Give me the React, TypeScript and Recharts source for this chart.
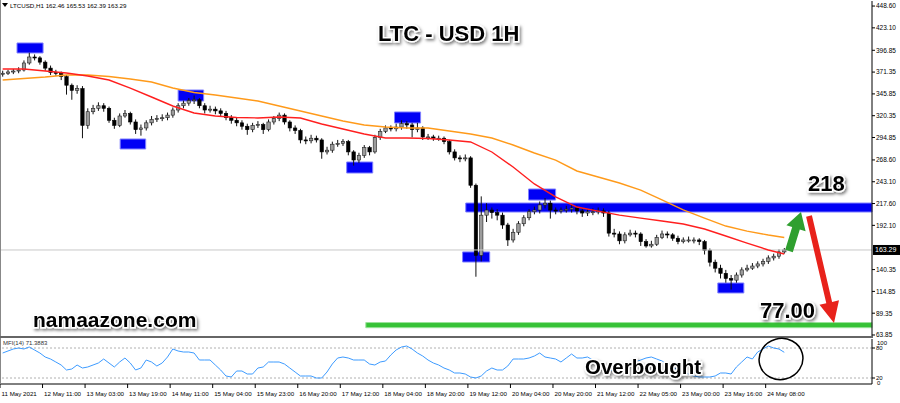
import React from 'react'
import {
  ComposedChart, Bar, Line, XAxis, YAxis, ReferenceArea, ReferenceLine,
} from 'recharts'

const FONT = '"Liberation Sans", Arial, sans-serif'

// 2-hour candles, LTCUSD 11 May -> 24 May 2021
const firstOpen = 369
const closes = [
  370, 371.5, 372.6, 373.8, 382, 389, 388, 383, 376, 371,
  370, 366, 356, 350, 352, 309, 325, 329, 332, 329,
  315, 309, 320, 323, 313, 304, 306, 312, 316, 317,
  318, 321, 327, 332, 335, 338, 339, 332, 327, 328,
  326, 323, 318, 315, 312, 308, 304, 309, 310, 304,
  313, 317, 321, 313, 306, 303, 292, 291, 294, 292,
  278, 280, 287, 288, 290, 278, 268.5, 274, 283, 278,
  295, 302, 306, 305, 307, 311, 309.5, 304, 306, 295.5,
  295.5, 294, 294, 290, 278, 271, 270, 271, 239, 157,
  204, 210, 207, 204, 192.5, 175, 184, 194, 201, 208,
  210, 216, 218, 210, 209, 210, 211, 212.4, 209, 206.5,
  208, 208, 209, 206.5, 183, 182, 174, 181, 183, 182,
  173, 168, 170, 178, 182, 181, 177, 173, 175, 175,
  175, 173, 163, 149, 142, 136, 130, 128, 134, 140,
  142, 144.5, 147, 150, 154, 156, 161, 163.29,
]
const highs = [
  373, 374, 375, 377, 385, 394, 392, 390, 385, 379,
  374, 372, 368, 358, 356, 355, 329, 333, 336, 335,
  331, 318, 323, 327, 325, 316, 310, 315, 320, 321,
  322, 324, 330, 335, 338, 341, 344, 341, 335, 332,
  331, 329, 326, 321, 318, 315, 311, 312, 314, 312,
  316, 320, 324, 323, 315, 309, 305, 296, 298, 297,
  294, 284, 290, 292, 293, 292, 280, 277, 286, 285,
  298, 305, 309, 309, 311, 315, 314, 312, 312, 308,
  299, 298, 297, 296, 292, 281, 274, 275, 273, 241,
  226, 218, 213, 211, 207, 195, 188, 197, 204, 211,
  214, 220, 224, 221, 213, 213, 215, 216, 215, 212,
  211, 212, 213, 212, 209, 188, 185, 184, 187, 186,
  184, 176, 174, 181, 186, 185, 183, 180, 178, 179,
  178, 177, 175, 165, 152, 146, 140, 134, 137, 143,
  146, 148, 150, 153, 157, 159, 164, 165.53,
]
const lows = [
  366, 368, 369, 370, 372, 380, 385, 380, 373, 368,
  367, 362, 345, 339, 346, 294, 305, 322, 326, 325,
  312, 305, 307, 318, 310, 299, 297, 303, 309, 313,
  314, 315, 318, 324, 329, 332, 334, 329, 323, 324,
  322, 320, 315, 311, 308, 304, 298, 301, 306, 299,
  302, 310, 314, 310, 302, 299, 288, 287, 288, 289,
  270, 275, 277, 284, 285, 274, 262, 265, 271, 274,
  276, 292, 300, 302, 302, 304, 305, 295, 301, 292,
  292, 291, 291, 287, 275, 268, 266, 267, 236, 132,
  150, 196, 200, 198, 188, 168, 172, 181, 191, 198,
  205, 206, 212, 200, 205, 206, 207, 207, 205, 202,
  203, 204, 205, 202, 179, 178, 170, 171, 179, 178,
  168, 166, 166, 168, 176, 177, 174, 170, 171, 172,
  171, 169, 158, 144, 137, 130, 125, 117, 125, 131,
  138, 140, 142, 144, 147, 151, 153, 159,
]

// moving averages, read every 4th candle
const maIdx = [0, 4, 8, 12, 16, 20, 24, 28, 32, 36, 40, 44, 48, 52, 56, 60, 64, 68, 72, 76,
  80, 84, 88, 92, 96, 100, 104, 108, 112, 116, 120, 124, 128, 132, 136, 140, 144, 147]
const maFast = [374.9, 374.9, 372.6, 370.3, 366.8, 362.1, 352.7, 342.2, 331.7, 323.5,
  320.0, 318.2, 317.7, 318.8, 317.7, 310.6, 304.8, 299.0, 294.3, 294.3,
  293.7, 291.9, 289.6, 277.9, 260.3, 240.5, 225.3, 213.5, 208.8, 204.1,
  200.6, 197.2, 193.7, 187.8, 179.6, 171.4, 163.3, 158.6]
const maSlow = [362.1, 363.9, 365.6, 368.0, 368.0, 366.2, 363.3, 359.8, 352.7, 347.5,
  344.5, 341.0, 337.5, 331.7, 325.8, 320.0, 314.1, 309.5, 307.1, 306.0,
  306.0, 302.5, 298.9, 294.3, 286.1, 276.7, 268.5, 255.7, 248.7, 241.6,
  233.4, 221.8, 210.1, 200.6, 191.3, 185.4, 180.8, 177.9]

const mfi = [
  70, 74, 78, 80, 78, 82, 76, 70, 62, 58,
  52, 46, 36, 38, 46, 40, 42, 46, 50, 58,
  50, 42, 52, 60, 50, 36, 40, 56, 52, 44,
  50, 62, 78, 74, 72, 72, 70, 56, 56, 56,
  46, 36, 24, 22, 34, 34, 28, 28, 40, 42,
  52, 52, 52, 48, 40, 32, 24, 24, 24, 20,
  20, 32, 48, 60, 62, 60, 56, 56, 56, 48,
  46, 52, 54, 66, 76, 82, 84, 78, 70, 64,
  56, 50, 46, 40, 36, 30, 30, 28, 22, 20,
  24, 34, 40, 36, 36, 44, 58, 58, 58, 60,
  64, 70, 62, 60, 58, 52, 60, 68, 60, 60,
  62, 56, 48, 42, 34, 36, 40, 44, 50, 52,
  56, 60, 62, 58, 54, 48, 42, 36, 32, 28,
  24, 22, 22, 22, 24, 30, 30, 28, 42, 52,
  62, 58, 72, 78, 84, 80, 78, 71.39,
]

const timeLabels = ['11 May 2021', '12 May 11:00', '13 May 03:00', '13 May 19:00', '14 May 11:00',
  '15 May 04:00', '15 May 23:00', '16 May 20:00', '17 May 12:00', '18 May 04:00', '18 May 20:00',
  '19 May 12:00', '20 May 04:00', '20 May 20:00', '21 May 12:00', '22 May 05:00', '23 May 00:00',
  '23 May 16:00', '24 May 08:00']
const priceTicks = [448.6, 423.1, 396.85, 371.35, 345.85, 320.35, 294.85, 268.6, 243.1,
  217.6, 192.1, 140.35, 114.85, 89.35, 63.85]
const lastPrice = 163.29

// swing boxes: [fromBar, toBar, lowPrice, highPrice]
const swingBoxes = [
  [2.7, 7.6, 393.7, 405.4], [22.1, 26.9, 281.4, 293.1], [33.0, 37.8, 337.5, 350.4],
  [64.7, 69.6, 253.3, 266.2], [73.7, 78.6, 311.8, 324.7], [86.5, 91.6, 149.2, 161.0],
  [98.9, 104.0, 221.7, 234.6], [134.5, 139.4, 113.0, 124.7],
]
const resistance = [87.1, 207.7, 218.2]
const target = [68.3, 72.4, 78.4]

const X_DOMAIN: [number, number] = [-0.5, 163.5]
const timeTicks = timeLabels.map((_, k) => k * 8 - 0.5)

const candles = closes.map((c, i) => ({
  i,
  open: i === 0 ? firstOpen : closes[i - 1],
  close: c,
  high: highs[i],
  low: lows[i],
  range: [lows[i], highs[i]],
}))
const fastData = maIdx.map((i, k) => ({ i, v: maFast[k] }))
const slowData = maIdx.map((i, k) => ({ i, v: maSlow[k] }))
const mfiData = mfi.map((v, i) => ({ i, v }))

function Candle(props: any) {
  const { x, y, width, height, payload } = props
  if (!payload) return null
  const top0 = Math.min(y, y + height)
  const h = Math.abs(height)
  const span = payload.high - payload.low
  const k = span > 0 ? h / span : 0
  const yOf = (v: number) => top0 + (payload.high - v) * k
  const cx = x + width / 2
  const bTop = yOf(Math.max(payload.open, payload.close))
  const bBot = yOf(Math.min(payload.open, payload.close))
  const up = payload.close >= payload.open
  return (
    <g>
      <line x1={cx} x2={cx} y1={top0} y2={top0 + h} stroke="#111" strokeWidth={1} />
      <rect x={x} y={bTop} width={width} height={Math.max(1, bBot - bTop)}
        fill={up ? '#9c9c9c' : '#000'} stroke={up ? '#222' : '#000'} strokeWidth={0.6} />
    </g>
  )
}

function PriceTag(props: any) {
  const vb = props.viewBox
  if (!vb) return null
  const x = vb.x + vb.width + 1
  return (
    <g>
      <rect x={x} y={vb.y - 5} width={27} height={10} fill="#000" />
      <text x={x + 2} y={vb.y + 2.5} fontSize={7} fill="#fff" fontFamily={FONT}>{lastPrice.toFixed(2)}</text>
    </g>
  )
}

function TimeTick(props: any) {
  const { x, y, payload } = props
  const k = Math.round((payload.value + 0.5) / 8)
  return (
    <g>
      <line x1={x} x2={x} y1={y} y2={y + 4} stroke="#000" />
      <text x={x + 1.5} y={y + 12} fontSize={6.2} fill="#000" fontFamily={FONT}>{timeLabels[k]}</text>
    </g>
  )
}

function arrowPts(x1: number, y1: number, x2: number, y2: number, shaft: number, head: number, headLen: number) {
  const dx = x2 - x1
  const dy = y2 - y1
  const L = Math.hypot(dx, dy)
  const ux = dx / L
  const uy = dy / L
  const nx = -uy
  const ny = ux
  const bx = x2 - ux * headLen
  const by = y2 - uy * headLen
  const pts = [
    [x1 + nx * shaft / 2, y1 + ny * shaft / 2],
    [bx + nx * shaft / 2, by + ny * shaft / 2],
    [bx + nx * head / 2, by + ny * head / 2],
    [x2, y2],
    [bx - nx * head / 2, by - ny * head / 2],
    [bx - nx * shaft / 2, by - ny * shaft / 2],
    [x1 - nx * shaft / 2, y1 - ny * shaft / 2],
  ]
  return pts.map((p) => p[0].toFixed(1) + ',' + p[1].toFixed(1)).join(' ')
}

const bigText = {
  fontFamily: FONT, fontWeight: 700, fill: '#000', stroke: '#fff', strokeWidth: 3,
  paintOrder: 'stroke' as const, filter: 'url(#ds)',
}

export default function App() {
  return (
    <div style={{ position: 'absolute', left: 0, top: 0, width: 900, height: 403, background: '#fff', overflow: 'hidden' }}>
      <div style={{ position: 'absolute', left: 0, top: 0 }}>
        <ComposedChart width={900} height={338} data={candles} margin={{ top: 1, right: 0, bottom: 2, left: 0 }}>
          <XAxis type="number" dataKey="i" domain={X_DOMAIN} hide allowDataOverflow />
          <YAxis
            orientation="right"
            domain={[62.68, 454.5]}
            ticks={priceTicks}
            interval={0}
            width={28}
            allowDataOverflow
            tickFormatter={(v: number) => v.toFixed(2)}
            tick={{ fontSize: 6.5, fill: '#000', fontFamily: FONT }}
            tickSize={3}
            tickMargin={1}
            axisLine={{ stroke: '#000' }}
            tickLine={{ stroke: '#000' }}
          />
          <ReferenceLine y={lastPrice} stroke="#c8c8c8" strokeWidth={1} label={(p: any) => <PriceTag {...p} />} />
          <ReferenceArea x1={resistance[0]} x2={X_DOMAIN[1]} y1={resistance[1]} y2={resistance[2]}
            fill="#0000f5" fillOpacity={1} stroke="#7d7dff" strokeWidth={1} ifOverflow="visible" />
          <ReferenceArea x1={target[0]} x2={X_DOMAIN[1]} y1={target[1]} y2={target[2]}
            fill="#36c236" fillOpacity={1} stroke="#9be39b" strokeWidth={1} ifOverflow="visible" />
          {swingBoxes.map((b, k) => (
            <ReferenceArea key={k} x1={b[0]} x2={b[1]} y1={b[2]} y2={b[3]}
              fill="#0000f5" fillOpacity={1} stroke="#8080ff" strokeWidth={1} ifOverflow="visible" />
          ))}
          <Bar dataKey="range" barSize={3.4} shape={(p: any) => <Candle {...p} />} isAnimationActive={false} />
          <Line data={slowData} dataKey="v" stroke="#ff9a1a" strokeWidth={1.4} dot={false} isAnimationActive={false} />
          <Line data={fastData} dataKey="v" stroke="#ff1f1f" strokeWidth={1.4} dot={false} isAnimationActive={false} />
        </ComposedChart>
      </div>
      <div style={{ position: 'absolute', left: 0, top: 338 }}>
        <ComposedChart width={900} height={65} data={mfiData} margin={{ top: 1, right: 0, bottom: 0, left: 0 }}>
          <XAxis
            type="number"
            dataKey="i"
            domain={X_DOMAIN}
            ticks={timeTicks}
            interval={0}
            height={19}
            allowDataOverflow
            tickLine={false}
            tickSize={0}
            tickMargin={0}
            axisLine={{ stroke: '#000' }}
            tick={(p: any) => <TimeTick {...p} />}
          />
          <YAxis
            orientation="right"
            domain={[8, 98]}
            ticks={[20, 80]}
            interval={0}
            width={28}
            allowDataOverflow
            tick={{ fontSize: 6, fill: '#000', fontFamily: FONT }}
            tickSize={3}
            tickMargin={1}
            axisLine={{ stroke: '#000' }}
            tickLine={{ stroke: '#000' }}
          />
          <ReferenceLine y={80} stroke="#b0b0b0" strokeDasharray="2 2" />
          <ReferenceLine y={20} stroke="#b0b0b0" strokeDasharray="2 2" />
          <Line dataKey="v" stroke="#3d9bff" strokeWidth={1} dot={false} isAnimationActive={false} />
        </ComposedChart>
      </div>
      <svg width={900} height={403} style={{ position: 'absolute', left: 0, top: 0, pointerEvents: 'none' }}>
        <defs>
          <filter id="ds" x="-20%" y="-40%" width="140%" height="180%">
            <feDropShadow dx="1.5" dy="2" stdDeviation="1.5" floodColor="#000" floodOpacity="0.5" />
          </filter>
        </defs>
        <line x1={0.5} x2={0.5} y1={0} y2={384} stroke="#888" />
        <line x1={0} x2={873} y1={337} y2={337} stroke="#666" strokeWidth={2} />
        <polygon points="2,3 8,3 5,7" fill="#000" />
        <text x={10} y={8} fontSize={6.2} fontFamily={FONT} fill="#000">LTCUSD,H1  162.46 165.53 162.39 163.29</text>
        <text x={3} y={345} fontSize={6} fontFamily={FONT} fill="#333">MFI(14) 71.3883</text>
        <text x={877} y={344.5} fontSize={6} fontFamily={FONT} fill="#000">100</text>
        <text x={877} y={385} fontSize={6} fontFamily={FONT} fill="#000">0</text>
        <polygon points={arrowPts(789, 251, 801, 212, 8, 20, 17)} fill="#2f9f2f" />
        <polygon points={arrowPts(809, 216, 834, 323, 6, 20, 21)} fill="#e8221b" />
        <ellipse cx={781} cy={359} rx={22} ry={20.5} fill="none" stroke="#000" strokeWidth={1.5} transform="rotate(-15 781 359)" />
        <text x={378} y={41} fontSize={22} style={bigText}>LTC - USD 1H</text>
        <text x={808} y={191} fontSize={22} style={bigText}>218</text>
        <text x={760} y={318} fontSize={22} style={bigText}>77.00</text>
        <text x={33} y={327} fontSize={21} style={bigText}>namaazone.com</text>
        <text x={585} y={374} fontSize={20.5} style={bigText}>Overbought</text>
      </svg>
    </div>
  )
}
